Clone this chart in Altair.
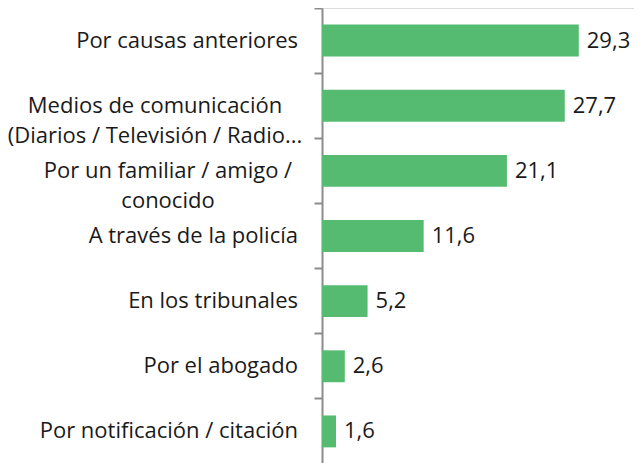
import altair as alt
import pandas as pd

categories = [
    "Por causas anteriores",
    "Medios de comunicación\n(Diarios / Televisión / Radio...",
    "Por un familiar / amigo /\nconocido",
    "A través de la policía",
    "En los tribunales",
    "Por el abogado",
    "Por notificación / citación",
]
values = [29.3, 27.7, 21.1, 11.6, 5.2, 2.6, 1.6]
value_labels = [f"{v:.1f}".replace(".", ",") for v in values]

df = pd.DataFrame({"cat": categories, "val": values, "lab": value_labels})

FONT = "Open Sans"
FS = 22
y = alt.Y("cat:N", sort=None, title=None,
          scale=alt.Scale(paddingInner=0, paddingOuter=0),
          axis=alt.Axis(labels=False, ticks=True, tickSize=8, tickColor="#8c8c8c",
                        tickWidth=2, domainColor="#8c8c8c", domainWidth=2,
                        bandPosition=0, grid=False))
x = alt.X("val:Q", title=None, axis=None, scale=alt.Scale(domain=[0, 35.6]))

base = alt.Chart(df)

bars = base.mark_bar(color="#55BB70", height=alt.RelativeBandSize(0.49)).encode(x=x, y=y)
vals = base.mark_text(align="left", baseline="middle", dx=8, font=FONT,
                      fontSize=FS, color="#1a1a1a").encode(x=x, y=y, text="lab:N")
single = base.transform_filter("indexof(datum.cat, '\\n') < 0").mark_text(
    align="right", baseline="middle", font=FONT, fontSize=FS, color="#1a1a1a"
).encode(y=y, x=alt.value(-24), text="cat:N")
multi1 = base.transform_filter("indexof(datum.cat, 'Medios') >= 0").mark_text(
    align="center", baseline="middle", font=FONT, fontSize=FS, color="#1a1a1a",
    lineBreak="\n", lineHeight=30
).encode(y=y, x=alt.value(-167), text="cat:N")
multi2 = base.transform_filter("indexof(datum.cat, 'familiar') >= 0").mark_text(
    align="center", baseline="middle", font=FONT, fontSize=FS, color="#1a1a1a",
    lineBreak="\n", lineHeight=30
).encode(y=y, x=alt.value(-154), text="cat:N")

chart = alt.layer(bars, vals, single, multi1, multi2).properties(
    width=312, height=456,
    autosize=alt.AutoSizeParams(type="none"),
    padding={"left": 314, "top": 0, "right": 0, "bottom": 0},
).configure_view(stroke=None).configure(background="white")

chart.save("out.html", embed_options={"renderer": "svg", "actions": False})
